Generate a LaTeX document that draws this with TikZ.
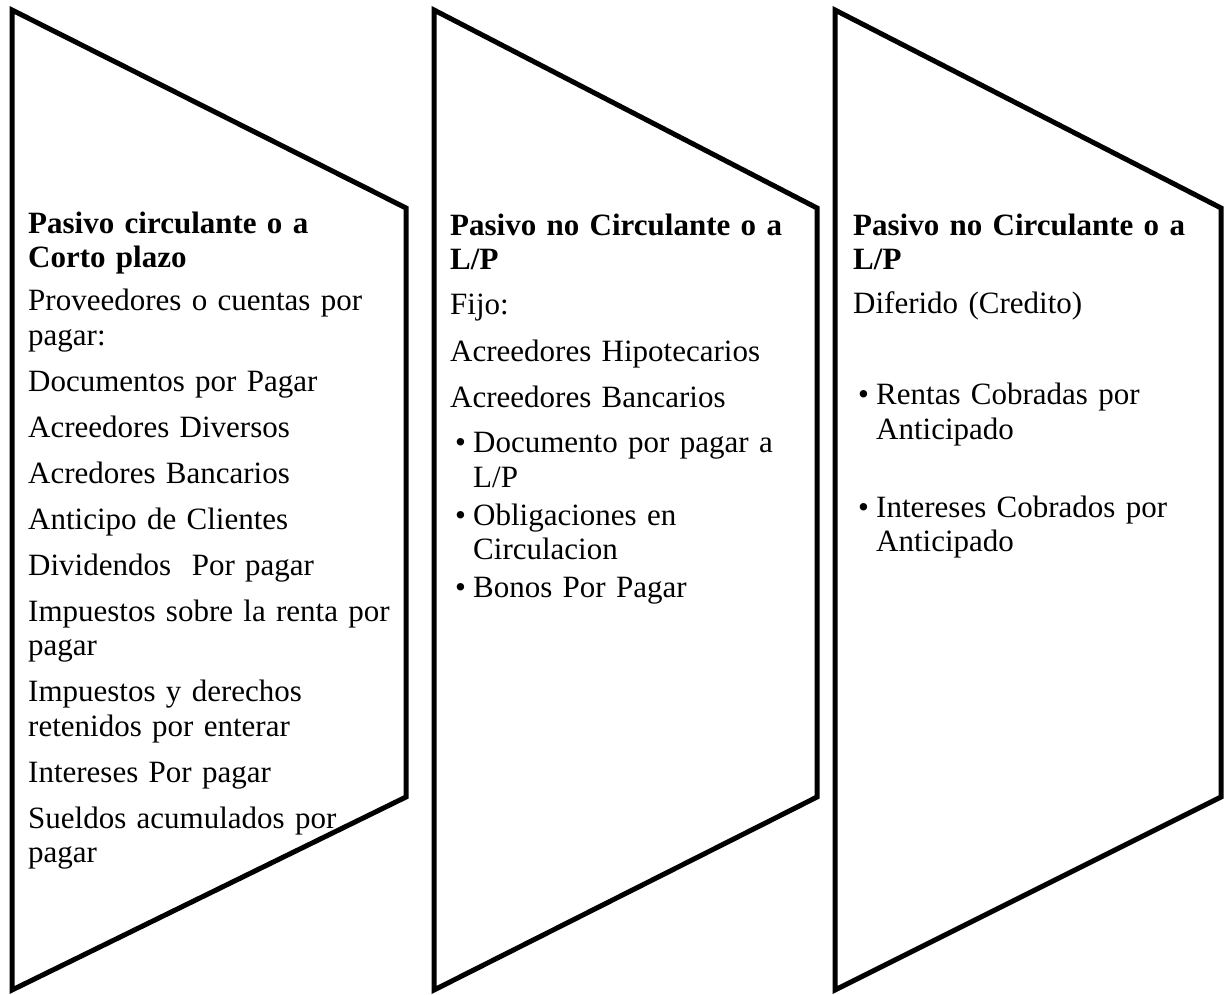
\documentclass[tikz,border=0pt]{standalone}
\usepackage{fontspec}
\setmainfont[WordSpace=1.2]{Liberation Serif}
\tikzset{
  panel/.style={draw, line width=5pt, line join=miter},
  paneltext/.style={anchor=base west, inner sep=0pt, text width=400pt, align=left,
    font=\fontsize{31}{34.5}\selectfont}
}
\newcommand{\itembul}{\hspace*{5pt}\makebox[18pt][l]{\textbullet}}
\newcommand{\itemind}{\hspace*{23pt}}
\begin{document}
\begin{tikzpicture}[x=1pt,y=-1pt]
	\useasboundingbox (0,0) rectangle (1225,994);
	\draw[panel] (12,10) -- (406,208) -- (406,797) -- (12,990) -- cycle;
	\draw[panel] (434,10) -- (817,208) -- (817,797) -- (434,990) -- cycle;
	\draw[panel] (835,10) -- (1221,208) -- (1221,797) -- (835,990) -- cycle;
	\node[paneltext] (corto) at (28,233) {\textbf{Pasivo circulante o a}\\\textbf{Corto plazo}\\[8.5pt]
		Proveedores o cuentas por\\pagar:\\[11.5pt]
		Documentos por Pagar\\[11.5pt]
		Acreedores Diversos\\[11.5pt]
		Acredores Bancarios\\[11.5pt]
		Anticipo de Clientes\\[11.5pt]
		Dividendos\ \ Por pagar\\[11.5pt]
		Impuestos sobre la renta por\\pagar\\[11.5pt]
		Impuestos y derechos\\retenidos por enterar\\[11.5pt]
		Intereses Por pagar\\[11.5pt]
		Sueldos acumulados por\\pagar};
	\node[paneltext] (fijo) at (450,235) {\textbf{Pasivo no Circulante o a}\\\textbf{L/P}\\[10.5pt]
		Fijo:\\[12pt]
		Acreedores Hipotecarios\\[12pt]
		Acreedores Bancarios\\[10.5pt]
		\itembul Documento por pagar a\\\itemind L/P\\[3.5pt]
		\itembul Obligaciones en\\\itemind Circulacion\\[3.5pt]
		\itembul Bonos Por Pagar};
	\node[paneltext] (diferido) at (853,235) {\textbf{Pasivo no Circulante o a}\\\textbf{L/P}\\[9.5pt]
		Diferido (Credito)\\[56.5pt]
		\itembul Rentas Cobradas por\\\itemind Anticipado\\[43.5pt]
		\itembul Intereses Cobrados por\\\itemind Anticipado};
\end{tikzpicture}
\end{document}
